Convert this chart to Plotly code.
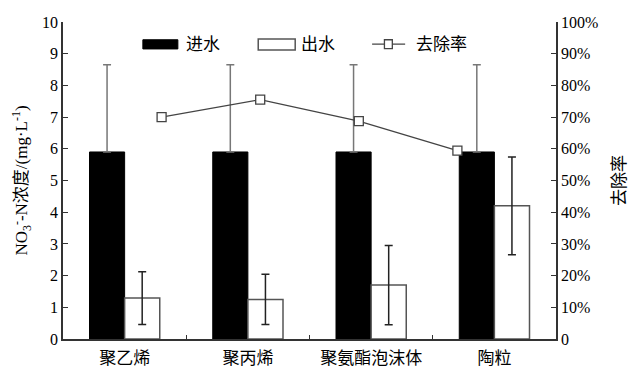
import plotly.graph_objects as go

categories = ['聚乙烯', '聚丙烯', '聚氨酯泡沫体', '陶粒']
influent = [5.9, 5.9, 5.9, 5.9]
influent_err = [2.75, 2.75, 2.75, 2.75]
effluent = [1.29, 1.25, 1.70, 4.20]
effluent_err = [0.83, 0.79, 1.25, 1.54]
removal = [70.0, 75.5, 68.7, 59.4]
removal_x = [1, 2, 3, 4]
series_names = ['进水', '出水', '去除率']

left_ticks = list(range(0, 11))
right_ticks = list(range(0, 101, 10))
right_labels = ['0'] + [f'{v}%' for v in right_ticks[1:]]

FONT = 'Liberation Serif, Times New Roman, Noto Sans CJK SC, serif'
LINE_C = '#444'

fig = go.Figure()
fig.add_trace(go.Bar(
    x=categories, y=influent, name=series_names[0],
    marker=dict(color='black', line=dict(color='black', width=1)),
    error_y=dict(type='data', symmetric=False, array=influent_err,
                 arrayminus=[0] * len(influent_err), color='#777', thickness=1.5, width=4),
))
fig.add_trace(go.Bar(
    x=categories, y=effluent, name=series_names[1],
    marker=dict(color='white', line=dict(color='#555', width=1.5)),
    error_y=dict(type='data', array=effluent_err, color='#222', thickness=1.5, width=4),
))
fig.add_trace(go.Scatter(
    x=removal_x, y=removal, name=series_names[2], xaxis='x2', yaxis='y2',
    mode='lines+markers',
    line=dict(color=LINE_C, width=1.3),
    marker=dict(symbol='square', size=9, color='white', line=dict(color=LINE_C, width=1.3)),
))

# hand-drawn legend (paper coords = plot area)
shapes = [
    dict(type='rect', xref='paper', yref='paper', x0=0.162, x1=0.233, y0=0.915, y1=0.944,
         fillcolor='black', line=dict(color='black', width=1)),
    dict(type='rect', xref='paper', yref='paper', x0=0.396, x1=0.471, y0=0.912, y1=0.946,
         fillcolor='white', line=dict(color='#555', width=1.5)),
    dict(type='line', xref='paper', yref='paper', x0=0.627, x1=0.694, y0=0.93, y1=0.93,
         line=dict(color=LINE_C, width=1.3)),
    dict(type='rect', xref='paper', yref='paper', x0=0.652, x1=0.668, y0=0.916, y1=0.944,
         fillcolor='white', line=dict(color=LINE_C, width=1.3)),
]
legend_x = [0.245, 0.479, 0.712]
annotations = [
    dict(text=t, xref='paper', yref='paper', x=lx, y=0.93, xanchor='left', yanchor='middle',
         showarrow=False, font=dict(size=17))
    for t, lx in zip(series_names, legend_x)
]

fig.update_layout(
    width=640, height=380,
    margin=dict(l=63, r=84, t=22, b=39),
    plot_bgcolor='white', paper_bgcolor='white',
    font=dict(family=FONT, size=15, color='black'),
    barmode='group', bargap=0.43, bargroupgap=0,
    showlegend=False,
    shapes=shapes, annotations=annotations,
    xaxis=dict(type='category', range=[-0.5, 3.5], showline=True, linecolor='#333', linewidth=1.5,
               ticks='inside', ticklen=4, tickson='boundaries', tickcolor='#333',
               tickfont=dict(size=17), ticklabelstandoff=3, showgrid=False, zeroline=False),
    xaxis2=dict(overlaying='x', range=[0, 5], visible=False),
    yaxis=dict(range=[0, 10], tickvals=left_ticks, showline=True, linecolor='#333', linewidth=1.5,
               ticks='inside', ticklen=5, tickcolor='#333', showgrid=False, zeroline=False,
               tickfont=dict(size=16),
               title=dict(text='NO<sub>3</sub><sup>-</sup>-N浓度/(mg·L<sup>-1</sup>)',
                          font=dict(size=17), standoff=10)),
    yaxis2=dict(overlaying='y', side='right', range=[0, 100], tickvals=right_ticks,
                ticktext=right_labels, showline=True, linecolor='#333', linewidth=1.5,
                ticks='inside', ticklen=5, tickcolor='#333', showgrid=False, zeroline=False,
                tickfont=dict(size=16),
                title=dict(text='去除率', font=dict(size=17), standoff=16)),
)

fig.write_html('out.html')
